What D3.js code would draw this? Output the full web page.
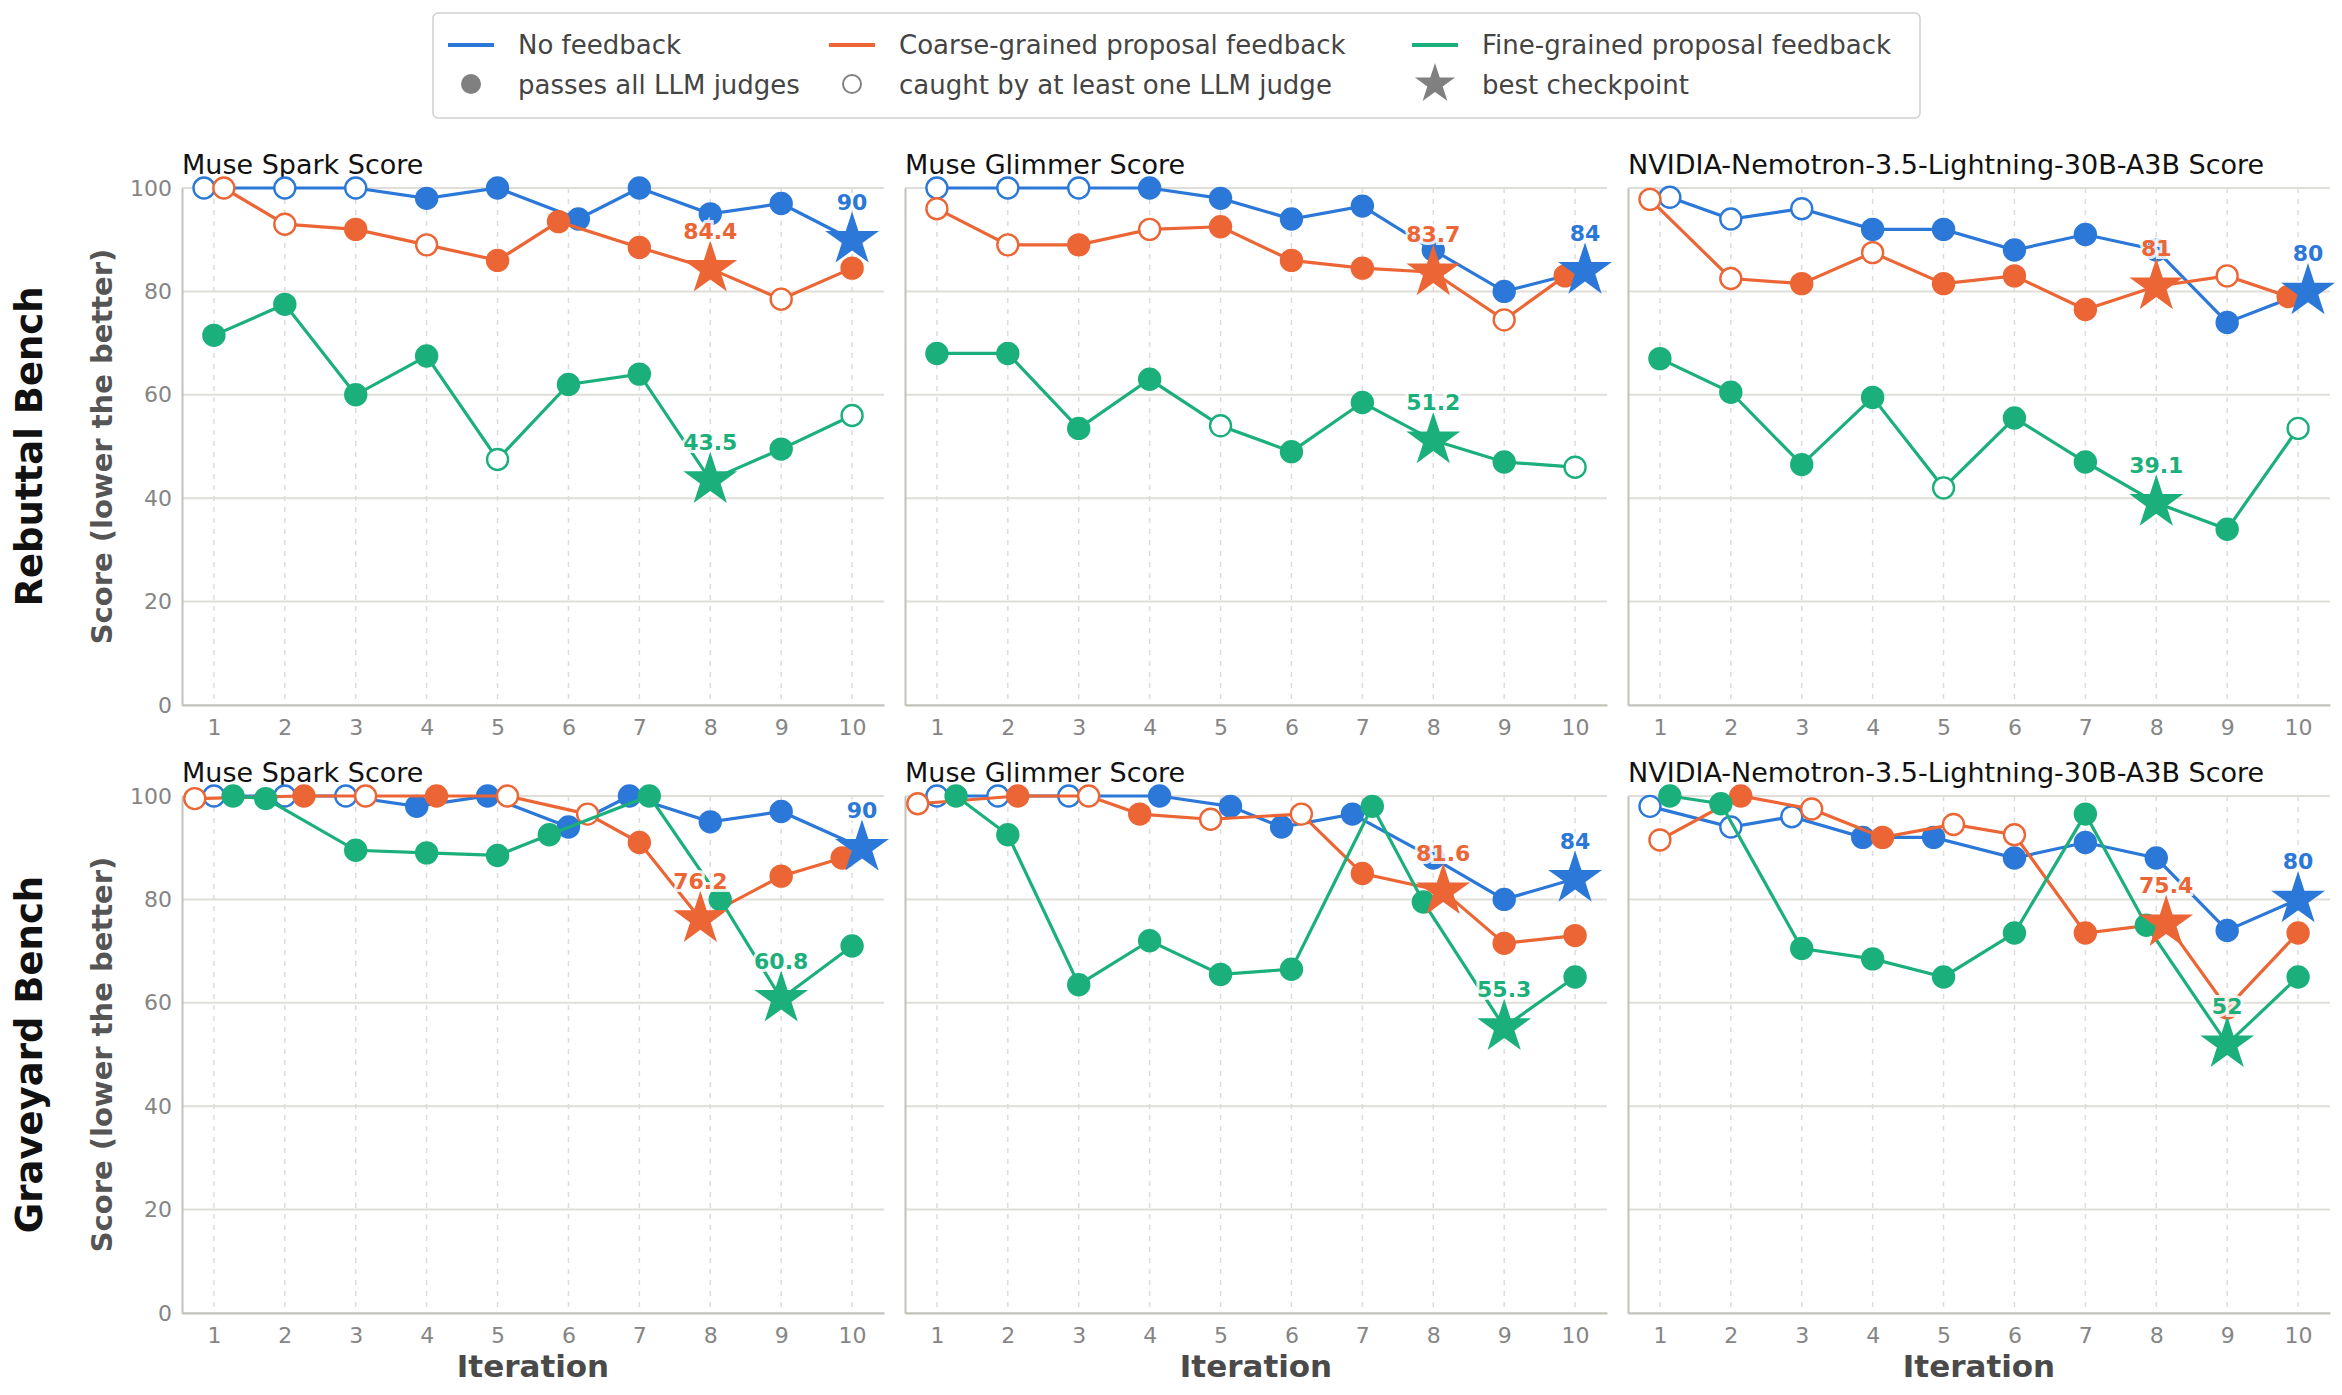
<!DOCTYPE html>
<html>
<head>
<meta charset="utf-8">
<script src="https://cdn.jsdelivr.net/npm/d3@7"></script>
<style>
body { margin: 0; background: #fff; }
text { font-family: "DejaVu Sans", sans-serif; }
</style>
</head>
<body>
<svg id="chart"></svg>
<script>
const width = 2342, height = 1395

const iterations = [1, 2, 3, 4, 5, 6, 7, 8, 9, 10]
const seriesNames = ["No feedback", "Coarse-grained proposal feedback", "Fine-grained proposal feedback"]
const colors = ["#2b78d8", "#ec6535", "#1bb07b"]
const benches = ["Rebuttal Bench", "Graveyard Bench"]
const judges = ["Muse Spark Score", "Muse Glimmer Score", "NVIDIA-Nemotron-3.5-Lightning-30B-A3B Score"]
const yTicks = [0, 20, 40, 60, 80, 100]

// scores, [bench][judge][series]
const scores = [
  [
    [[100, 100, 100, 98, 100, 94, 100, 95, 97, 90],
     [100, 93, 92, 89, 86, 93.5, 88.5, 84.4, 78.5, 84.5],
     [71.5, 77.5, 60, 67.5, 47.5, 62, 64, 43.5, 49.5, 56]],
    [[100, 100, 100, 100, 98, 94, 96.5, 88, 80, 84],
     [96, 89, 89, 92, 92.5, 86, 84.5, 83.7, 74.5, 83],
     [68, 68, 53.5, 63, 54, 49, 58.5, 51.2, 47, 46]],
    [[98.2, 94, 96, 92, 92, 88, 91, 88, 74, 80],
     [97.8, 82.5, 81.5, 87.5, 81.5, 83, 76.5, 81, 83, 79],
     [67, 60.5, 46.5, 59.5, 42, 55.5, 47, 39.1, 34, 53.5]]
  ],
  [
    [[100, 100, 100, 98, 100, 94, 100, 95, 97, 90],
     [99.5, 100, 100, 100, 100, 96.5, 91, 76.2, 84.5, 88],
     [100, 99.5, 89.5, 89, 88.5, 92.5, 100, 80, 60.8, 71]],
    [[100, 100, 100, 100, 98, 94, 96.5, 88, 80, 84],
     [98.5, 100, 100, 96.5, 95.5, 96.5, 85, 81.6, 71.5, 73],
     [100, 92.5, 63.5, 72, 65.5, 66.5, 98, 79.5, 55.3, 65]],
    [[98, 94, 96, 92, 92, 88, 91, 88, 74, 80],
     [91.5, 100, 97.5, 92, 94.5, 92.5, 73.5, 75.4, 59, 73.5],
     [100, 98.5, 70.5, 68.5, 65, 73.5, 96.5, 75, 52, 65]]
  ]
]

// 1 = passes all LLM judges (filled), 0 = caught by at least one (open)
const passes = [
  [
    [[0, 0, 0, 1, 1, 1, 1, 1, 1, 1], [0, 0, 1, 0, 1, 1, 1, 1, 0, 1], [1, 1, 1, 1, 0, 1, 1, 1, 1, 0]],
    [[0, 0, 0, 1, 1, 1, 1, 1, 1, 1], [0, 0, 1, 0, 1, 1, 1, 1, 0, 1], [1, 1, 1, 1, 0, 1, 1, 1, 1, 0]],
    [[0, 0, 0, 1, 1, 1, 1, 1, 1, 1], [0, 0, 1, 0, 1, 1, 1, 1, 0, 1], [1, 1, 1, 1, 0, 1, 1, 1, 1, 0]]
  ],
  [
    [[0, 0, 0, 1, 1, 1, 1, 1, 1, 1], [0, 1, 0, 1, 0, 0, 1, 1, 1, 1], [1, 1, 1, 1, 1, 1, 1, 1, 1, 1]],
    [[0, 0, 0, 1, 1, 1, 1, 1, 1, 1], [0, 1, 0, 1, 0, 0, 1, 1, 1, 1], [1, 1, 1, 1, 1, 1, 1, 1, 1, 1]],
    [[0, 0, 0, 1, 1, 1, 1, 1, 1, 1], [0, 1, 0, 1, 0, 0, 1, 1, 1, 1], [1, 1, 1, 1, 1, 1, 1, 1, 1, 1]]
  ]
]

// best checkpoint iteration, [bench][judge][series]
const bestIter = [
  [[10, 8, 8], [10, 8, 8], [10, 8, 8]],
  [[10, 8, 9], [10, 8, 9], [10, 8, 9]]
]

const panelX = [182, 905, 1628], panelW = 702
const panelY = [188, 796], panelH = 517

const svg = d3.select("#chart").attr("width", width).attr("height", height)

const x0 = d3.scaleLinear().domain([0.55, 10.45]).range([0, panelW])
const y = d3.scaleLinear().domain([0, 100]).range([panelH, 0])

// spread series that sit on top of each other at the same iteration
function dodge(vals) {
  const off = vals.map(() => 0)
  const order = d3.range(vals.length).sort((a, b) => vals[a] - vals[b] || a - b)
  let groups = [[order[0]]]
  for (let k = 1; k < order.length; k++) {
    const g = groups[groups.length - 1]
    if (vals[order[k]] - vals[g[g.length - 1]] < 4) g.push(order[k])
    else groups.push([order[k]])
  }
  groups.forEach(g => {
    if (g.length == 2) { off[g[0]] = -0.14; off[g[1]] = 0.14 }
    if (g.length == 3) { off[g[0]] = -0.27; off[g[2]] = 0.27 }
  })
  return off
}

const star = d3.symbol().type(d3.symbolStar).size(900)

benches.forEach((bench, bi) => {
  judges.forEach((judge, ji) => {
    const g = svg.append("g").attr("transform", `translate(${panelX[ji]},${panelY[bi]})`)

    // grid
    g.append("g").selectAll("line").data(yTicks).join("line")
      .attr("x1", 0).attr("x2", panelW)
      .attr("y1", d => y(d)).attr("y2", d => y(d))
      .attr("stroke", "#e0ded8").attr("stroke-width", 2)
    g.append("g").selectAll("line").data(iterations).join("line")
      .attr("x1", d => x0(d)).attr("x2", d => x0(d))
      .attr("y1", 0).attr("y2", panelH)
      .attr("stroke", "#dcdcdc").attr("stroke-width", 1.5).attr("stroke-dasharray", "5,6")

    // axes
    const xa = g.append("g").attr("transform", `translate(0,${panelH})`)
      .call(d3.axisBottom(x0).tickValues(iterations).tickSize(0).tickPadding(14))
    xa.select(".domain").attr("stroke", "#c4c2bc").attr("stroke-width", 2)
    xa.selectAll("text").attr("font-size", 22).attr("fill", "#858585")
    const ya = g.append("g").call(d3.axisLeft(y).tickValues(yTicks).tickSize(0).tickPadding(10))
    ya.select(".domain").attr("stroke", "#c4c2bc").attr("stroke-width", 2)
    ya.selectAll("text").attr("font-size", 22).attr("fill", "#858585")
    if (ji > 0) ya.selectAll("text").remove()

    g.append("text").attr("x", 0).attr("y", -14).attr("font-size", 27).attr("fill", "#111").text(judge)

    const sc = scores[bi][ji]
    const offs = iterations.map((it, i) => dodge(sc.map(s => s[i])))
    const px = (s, i) => x0(iterations[i] + offs[i][s])

    sc.forEach((vals, s) => {
      const pts = vals.map((v, i) => [px(s, i), y(v)])
      g.append("path").attr("d", d3.line()(pts)).attr("fill", "none")
        .attr("stroke", colors[s]).attr("stroke-width", 3.2)
      const best = iterations.indexOf(bestIter[bi][ji][s])
      g.append("g").selectAll("circle").data(vals.map((v, i) => i).filter(i => i != best)).join("circle")
        .attr("cx", i => pts[i][0]).attr("cy", i => pts[i][1]).attr("r", 10.5)
        .attr("fill", i => passes[bi][ji][s][i] ? colors[s] : "#fff")
        .attr("stroke", colors[s]).attr("stroke-width", 2.4)
    })
    sc.forEach((vals, s) => {
      const best = iterations.indexOf(bestIter[bi][ji][s])
      const [bx, by] = [px(s, best), y(vals[best])]
      g.append("path").attr("d", star()).attr("transform", `translate(${bx},${by})`).attr("fill", colors[s])
      g.append("text").attr("x", bx).attr("y", by - 30).attr("text-anchor", "middle")
        .attr("font-size", 22).attr("font-weight", "bold").attr("fill", colors[s])
        .attr("stroke", "rgba(255,255,255,0.85)").attr("stroke-width", 6).attr("paint-order", "stroke")
        .text(vals[best])
    })

    if (bi == 1) {
      g.append("text").attr("x", panelW / 2).attr("y", panelH + 64).attr("text-anchor", "middle")
        .attr("font-size", 31).attr("font-weight", "bold").attr("fill", "#4a4a4a").text("Iteration")
    }
  })

  const cy = panelY[bi] + panelH / 2
  svg.append("text").attr("transform", `translate(42,${cy}) rotate(-90)`).attr("text-anchor", "middle")
    .attr("font-size", 37).attr("font-weight", "bold").attr("fill", "#111").text(bench)
  svg.append("text").attr("transform", `translate(112,${cy}) rotate(-90)`).attr("text-anchor", "middle")
    .attr("font-size", 29).attr("font-weight", "bold").attr("fill", "#555").text("Score (lower the better)")
})

// legend
const lg = svg.append("g")
lg.append("rect").attr("x", 433).attr("y", 13).attr("width", 1487).attr("height", 105).attr("rx", 5)
  .attr("fill", "#fff").attr("stroke", "#cfcfcf").attr("stroke-width", 1.5)
const colX = [448, 829, 1412]
seriesNames.forEach((n, i) => {
  lg.append("line").attr("x1", colX[i]).attr("x2", colX[i] + 46).attr("y1", 45).attr("y2", 45)
    .attr("stroke", colors[i]).attr("stroke-width", 4)
  lg.append("text").attr("x", colX[i] + 70).attr("y", 54).attr("font-size", 26).attr("fill", "#444").text(n)
})
const markerNames = ["passes all LLM judges", "caught by at least one LLM judge", "best checkpoint"]
markerNames.forEach((n, i) => {
  const cx = colX[i] + 23
  if (i == 0) lg.append("circle").attr("cx", cx).attr("cy", 84).attr("r", 10).attr("fill", "#808080")
  if (i == 1) lg.append("circle").attr("cx", cx).attr("cy", 84).attr("r", 9).attr("fill", "none")
    .attr("stroke", "#808080").attr("stroke-width", 2)
  if (i == 2) lg.append("path").attr("d", d3.symbol().type(d3.symbolStar).size(500)())
    .attr("transform", `translate(${cx},84)`).attr("fill", "#808080")
  lg.append("text").attr("x", colX[i] + 70).attr("y", 94).attr("font-size", 26).attr("fill", "#444").text(n)
})
</script>
</body>
</html>
